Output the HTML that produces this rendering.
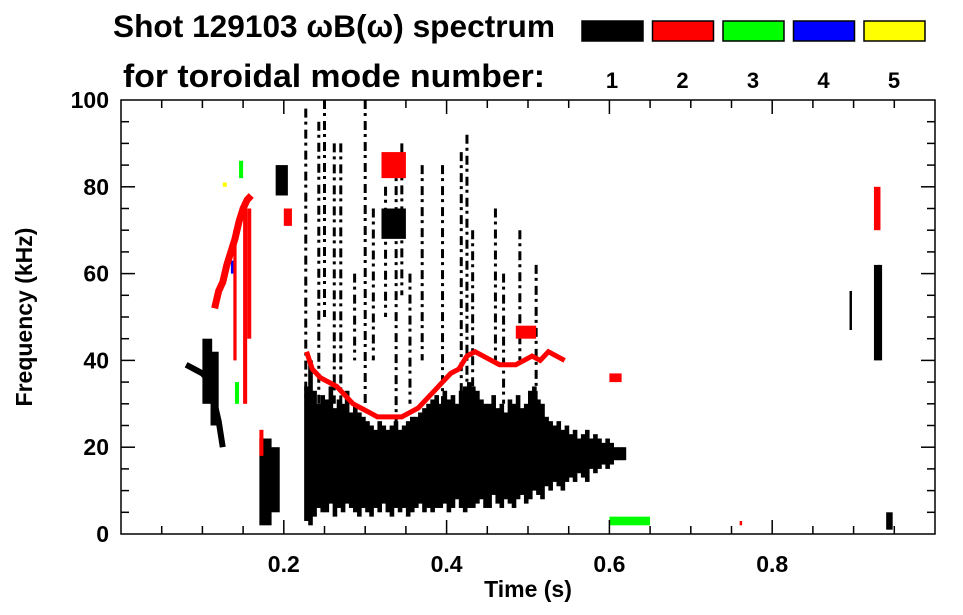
<!DOCTYPE html>
<html><head><meta charset="utf-8"><style>
body{margin:0;background:#fff;}
svg{display:block;font-family:"Liberation Sans",sans-serif;font-weight:bold;}
</style></head><body>
<svg id="chart" width="963" height="615">
<text x="113" y="37" font-size="31.5" textLength="442" lengthAdjust="spacingAndGlyphs">Shot 129103 ωB(ω) spectrum</text>
<text x="123" y="87" font-size="32.5" textLength="422" lengthAdjust="spacingAndGlyphs">for toroidal mode number:</text>
<g id="legend"></g>
<g id="marks"></g>
<g id="axes"></g>
<text x="528" y="597" font-size="23" text-anchor="middle">Time (s)</text>
<text transform="translate(32,317) rotate(-90)" font-size="23" text-anchor="middle">Frequency (kHz)</text>
</svg>
<script>
const modeLabels = ["1","2","3","4","5"];
const modeColors = ["#000000","#ff0000","#00ff00","#0000ff","#ffff00"];
const xTicks = [0.2,0.4,0.6,0.8];
const yTicks = [0,20,40,60,80,100];
// main broadband black mass: time, low freq, high freq
const massT  = [0.225,0.23,0.235,0.24,0.245,0.25,0.255,0.26,0.265,0.27,0.275,0.28,0.285,0.29,0.295,0.30,0.305,0.31,0.315,0.32,0.325,0.33,0.335,0.34,0.345,0.35,0.355,0.36,0.365,0.37,0.375,0.38,0.385,0.39,0.395,0.40,0.405,0.41,0.415,0.42,0.425,0.43,0.435,0.44,0.445,0.45,0.455,0.46,0.465,0.47,0.475,0.48,0.485,0.49,0.495,0.50,0.505,0.51,0.515,0.52,0.525,0.53,0.535,0.54,0.545,0.55,0.555,0.56,0.565,0.57,0.575,0.58,0.585,0.59,0.595,0.60,0.605,0.61,0.615];
const massLo = [3,2,4,6,5,5,7,4,6,5,7,6,5,4,6,5,4,6,5,7,5,4,6,5,6,4,5,6,7,5,6,5,6,6,7,5,6,8,6,5,6,6,7,8,6,6,9,7,6,8,7,6,8,9,7,8,10,9,8,11,10,12,11,10,12,13,12,14,13,12,15,14,15,16,15,16,17,17,17];
const massHi = [34,40,33,30,32,31,34,29,31,30,33,28,30,28,27,26,25,24,26,25,24,25,26,24,25,26,27,27,28,29,30,31,32,30,33,31,32,30,33,34,35,34,33,31,30,30,32,29,30,28,31,30,32,29,30,33,34,31,30,27,26,25,26,24,25,23,24,22,23,24,22,23,22,21,22,21,20,20,20];
// narrow vertical bursts (black): time, low, high
const spikeT  = [0.227,0.243,0.25,0.262,0.27,0.287,0.30,0.31,0.325,0.338,0.345,0.355,0.37,0.395,0.418,0.425,0.432,0.46,0.47,0.49,0.51];
const spikeLo = [30,20,50,30,20,40,30,40,50,20,55,30,40,20,20,25,30,40,30,40,30];
const spikeHi = [98,95,100,90,90,60,100,75,80,85,90,60,85,85,88,92,70,75,60,70,62];
// red n=2 mode trace: time, freq
const redT = [0.228,0.235,0.245,0.255,0.265,0.275,0.285,0.295,0.305,0.315,0.325,0.335,0.345,0.355,0.365,0.375,0.385,0.395,0.405,0.415,0.425,0.435,0.445,0.455,0.465,0.475,0.485,0.495,0.505,0.515,0.525,0.535,0.545];
const redF = [42,38,36,35,34,32,30,29,28,27,27,27,27,28,29,31,33,35,37,38,41,42,41,40,39,39,39,40,41,40,42,41,40];
// early chirps: red n=2 rising, black n=1 falling
const chirpRedT = [0.115,0.12,0.125,0.13,0.135,0.14,0.145,0.15,0.155,0.16];
const chirpRedF = [52,56,58,62,65,68,72,75,77,78];
const chirpBlkT = [0.08,0.09,0.1,0.105,0.11,0.115,0.12,0.125];
const chirpBlkF = [39,38,37,36,34,30,26,20];
// isolated features: time0, time1, low, high, mode index
const blobT0 = [0.1,0.11,0.17,0.175,0.19,0.32,0.32,0.15,0.2,0.17,0.6,0.6,0.925,0.93,0.94,0.925,0.125,0.14,0.135,0.145,0.485,0.76,0.895,0.155,0.138];
const blobT1 = [0.112,0.12,0.185,0.195,0.205,0.35,0.35,0.155,0.21,0.175,0.615,0.65,0.935,0.933,0.948,0.933,0.13,0.145,0.14,0.15,0.51,0.763,0.898,0.16,0.142];
const blobLo = [30,25,2,5,78,68,82,30,71,18,35,2,40,60,1,70,80,30,60,82,45,2,47,45,40];
const blobHi = [45,42,22,20,85,75,88,75,75,24,37,4,62,62,5,80,81,35,63,86,48,3,56,75,70];
const blobMode=[0,0,0,0,0,0,1,1,1,1,1,2,0,0,0,1,4,2,3,2,1,1,0,1,1];

const X0=121,X1=935,Y0=534,Y1=100;
const xs=t=>X0+(X1-X0)*t;
const ys=f=>Y0-(Y0-Y1)*f/100;
const NS="http://www.w3.org/2000/svg";
function mk(tag,attrs,parent){const e=document.createElementNS(NS,tag);for(const k in attrs)e.setAttribute(k,attrs[k]);parent.appendChild(e);return e;}
const marks=document.getElementById('marks');
const axes=document.getElementById('axes');
const legend=document.getElementById('legend');

modeLabels.forEach((l,i)=>{
  const bx=582+i*70.5;
  const r=mk('rect',{x:bx,y:21,width:61,height:20,fill:modeColors[i],stroke:'#000','stroke-width':1.5},legend);
  
  
  const t=mk('text',{x:bx+30,y:88,'font-size':22,'text-anchor':'middle'},legend);
  t.textContent=l;
  
  
});

massT.forEach((t,i)=>{
  const r=mk('rect',{x:xs(t),y:ys(massHi[i]),width:4.6,height:ys(massLo[i])-ys(massHi[i]),fill:'#000'},marks);
  
  
});
spikeT.forEach((t,i)=>{
  const r=mk('line',{x1:xs(t),y1:ys(spikeHi[i]),x2:xs(t),y2:ys(spikeLo[i]),stroke:'#000','stroke-width':3,'stroke-dasharray':'9 4 3 5'},marks);
  
  
});
blobT0.forEach((t,i)=>{
  const r=mk('rect',{x:xs(t),y:ys(blobHi[i]),width:Math.max(1.5,xs(blobT1[i])-xs(t)),height:ys(blobLo[i])-ys(blobHi[i]),fill:modeColors[blobMode[i]]},marks);
  
  
});
const pr=mk('polyline',{points:chirpRedT.map((t,i)=>xs(t)+','+ys(chirpRedF[i])).join(' '),fill:'none',stroke:'#ff0000','stroke-width':7},marks);


const pb=mk('polyline',{points:chirpBlkT.map((t,i)=>xs(t)+','+ys(chirpBlkF[i])).join(' '),fill:'none',stroke:'#000','stroke-width':6},marks);


const pl=mk('polyline',{points:redT.map((t,i)=>xs(t)+','+ys(redF[i])).join(' '),fill:'none',stroke:'#ff0000','stroke-width':5},marks);



const frame=mk('rect',{x:X0,y:Y1,width:X1-X0,height:Y0-Y1,fill:'none',stroke:'#000','stroke-width':1.5},axes);


for(let k=1;k<20;k++){
  const t=k*0.05, x=xs(t), L=(k%4===0)?14:8;
  mk('line',{x1:x,y1:Y0,x2:x,y2:Y0-L,stroke:'#000','stroke-width':1.5},axes);
  mk('line',{x1:x,y1:Y1,x2:x,y2:Y1+L,stroke:'#000','stroke-width':1.5},axes);
}
for(let k=1;k<20;k++){
  const y=ys(k*5), L=(k%4===0)?14:8;
  mk('line',{x1:X0,y1:y,x2:X0+L,y2:y,stroke:'#000','stroke-width':1.5},axes);
  mk('line',{x1:X1,y1:y,x2:X1-L,y2:y,stroke:'#000','stroke-width':1.5},axes);
}
xTicks.forEach(v=>{
  const t=mk('text',{x:xs(v),y:572,'font-size':23,'text-anchor':'middle'},axes);
  t.textContent=v.toFixed(1);
  
  
});
yTicks.forEach(v=>{
  const t=mk('text',{x:109,y:ys(v)+8,'font-size':23,'text-anchor':'end'},axes);
  t.textContent=v;
  
  
});
</script>
</body></html>
